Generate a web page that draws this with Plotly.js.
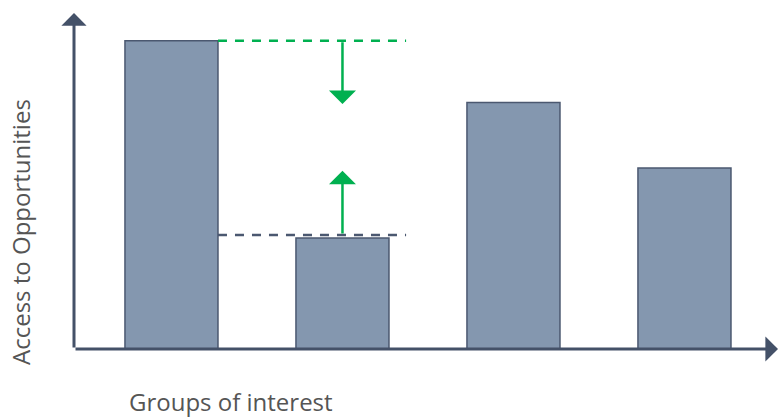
<!DOCTYPE html>
<html>
<head>
<meta charset="utf-8">
<script src="https://cdn.plot.ly/plotly-3.0.1.min.js"></script>
<style>html,body{margin:0;padding:0;background:#fff;}#chart{width:778px;height:418px;}</style>
</head>
<body>
<div id="chart"></div>
<script>
// Data
const groups = ["Group 1", "Group 2", "Group 3", "Group 4"];
const access = [100, 36, 80, 58.7];
const referenceHigh = 100;   // green dashed line (best group)
const referenceLow = 37;     // gray dashed line (lowest group)
const arrowDownTip = 79.5;
const arrowUpTip = 57.8;
const yMax = 110;
const yArrowTip = 109;

const barWidth = 0.544;
const axisColor = "#445168";
const green = "#00b050";
const textColor = "#555555";
const font = "Open Sans, sans-serif";

const trace = {
  type: "bar",
  x: [0, 1, 2, 3],
  y: access,
  width: barWidth,
  marker: { color: "#8497af", line: { color: "#4b5870", width: 1.5 } },
  hoverinfo: "skip",
  text: groups,
  textposition: "none"
};

const xr = [-0.57, 3.547];
const dashEnd = 1 + barWidth / 2 + 0.1;

const layout = {
  width: 778, height: 418,
  margin: { l: 74, r: 0, t: 10, b: 69 },
  paper_bgcolor: "#fff", plot_bgcolor: "#fff",
  showlegend: false,
  xaxis: { range: xr, showgrid: false, zeroline: false, showticklabels: false, showline: false, fixedrange: true },
  yaxis: { range: [0, yMax], showgrid: false, zeroline: false, showticklabels: false, showline: false, fixedrange: true },
  shapes: [
    { type: "line", xref: "x", yref: "y", x0: barWidth / 2, x1: dashEnd, y0: referenceHigh, y1: referenceHigh,
      line: { color: green, width: 2.5, dash: "9px,8px" } },
    { type: "line", xref: "x", yref: "y", x0: barWidth / 2, x1: dashEnd, y0: referenceLow, y1: referenceLow,
      line: { color: "#4b5870", width: 2.5, dash: "9px,8px" } }
  ],
  annotations: [
    // y axis arrow
    { xref: "x", yref: "y", axref: "x", ayref: "y", x: xr[0], y: yArrowTip, ax: xr[0], ay: 0,
      showarrow: true, arrowhead: 1, arrowsize: 1.4, arrowwidth: 3, arrowcolor: axisColor, text: "" },
    // x axis arrow
    { xref: "x", yref: "y", axref: "x", ayref: "y", x: xr[1], y: 0, ax: xr[0], ay: 0,
      showarrow: true, arrowhead: 1, arrowsize: 1.4, arrowwidth: 3, arrowcolor: axisColor, text: "" },
    // green down arrow
    { xref: "x", yref: "y", axref: "x", ayref: "y", x: 1, y: arrowDownTip, ax: 1, ay: referenceHigh,
      showarrow: true, arrowhead: 1, arrowsize: 1.8, arrowwidth: 2.5, arrowcolor: green, text: "" },
    // green up arrow
    { xref: "x", yref: "y", axref: "x", ayref: "y", x: 1, y: arrowUpTip, ax: 1, ay: referenceLow,
      showarrow: true, arrowhead: 1, arrowsize: 1.8, arrowwidth: 2.5, arrowcolor: green, text: "" },
    // axis titles
    { xref: "paper", yref: "paper", x: (127 - 74) / 704, y: (349 - 401) / 339, xanchor: "left", yanchor: "middle",
      showarrow: false, text: "Groups of interest", font: { family: font, size: 24, color: textColor } },
    { xref: "paper", yref: "paper", x: (20 - 74) / 704, y: (349 - 232) / 339, xanchor: "center", yanchor: "middle",
      textangle: -90, showarrow: false, text: "Access to Opportunities", font: { family: font, size: 24, color: textColor } }
  ]
};

Plotly.newPlot("chart", [trace], layout, { displayModeBar: false, staticPlot: true });
</script>
</body>
</html>
